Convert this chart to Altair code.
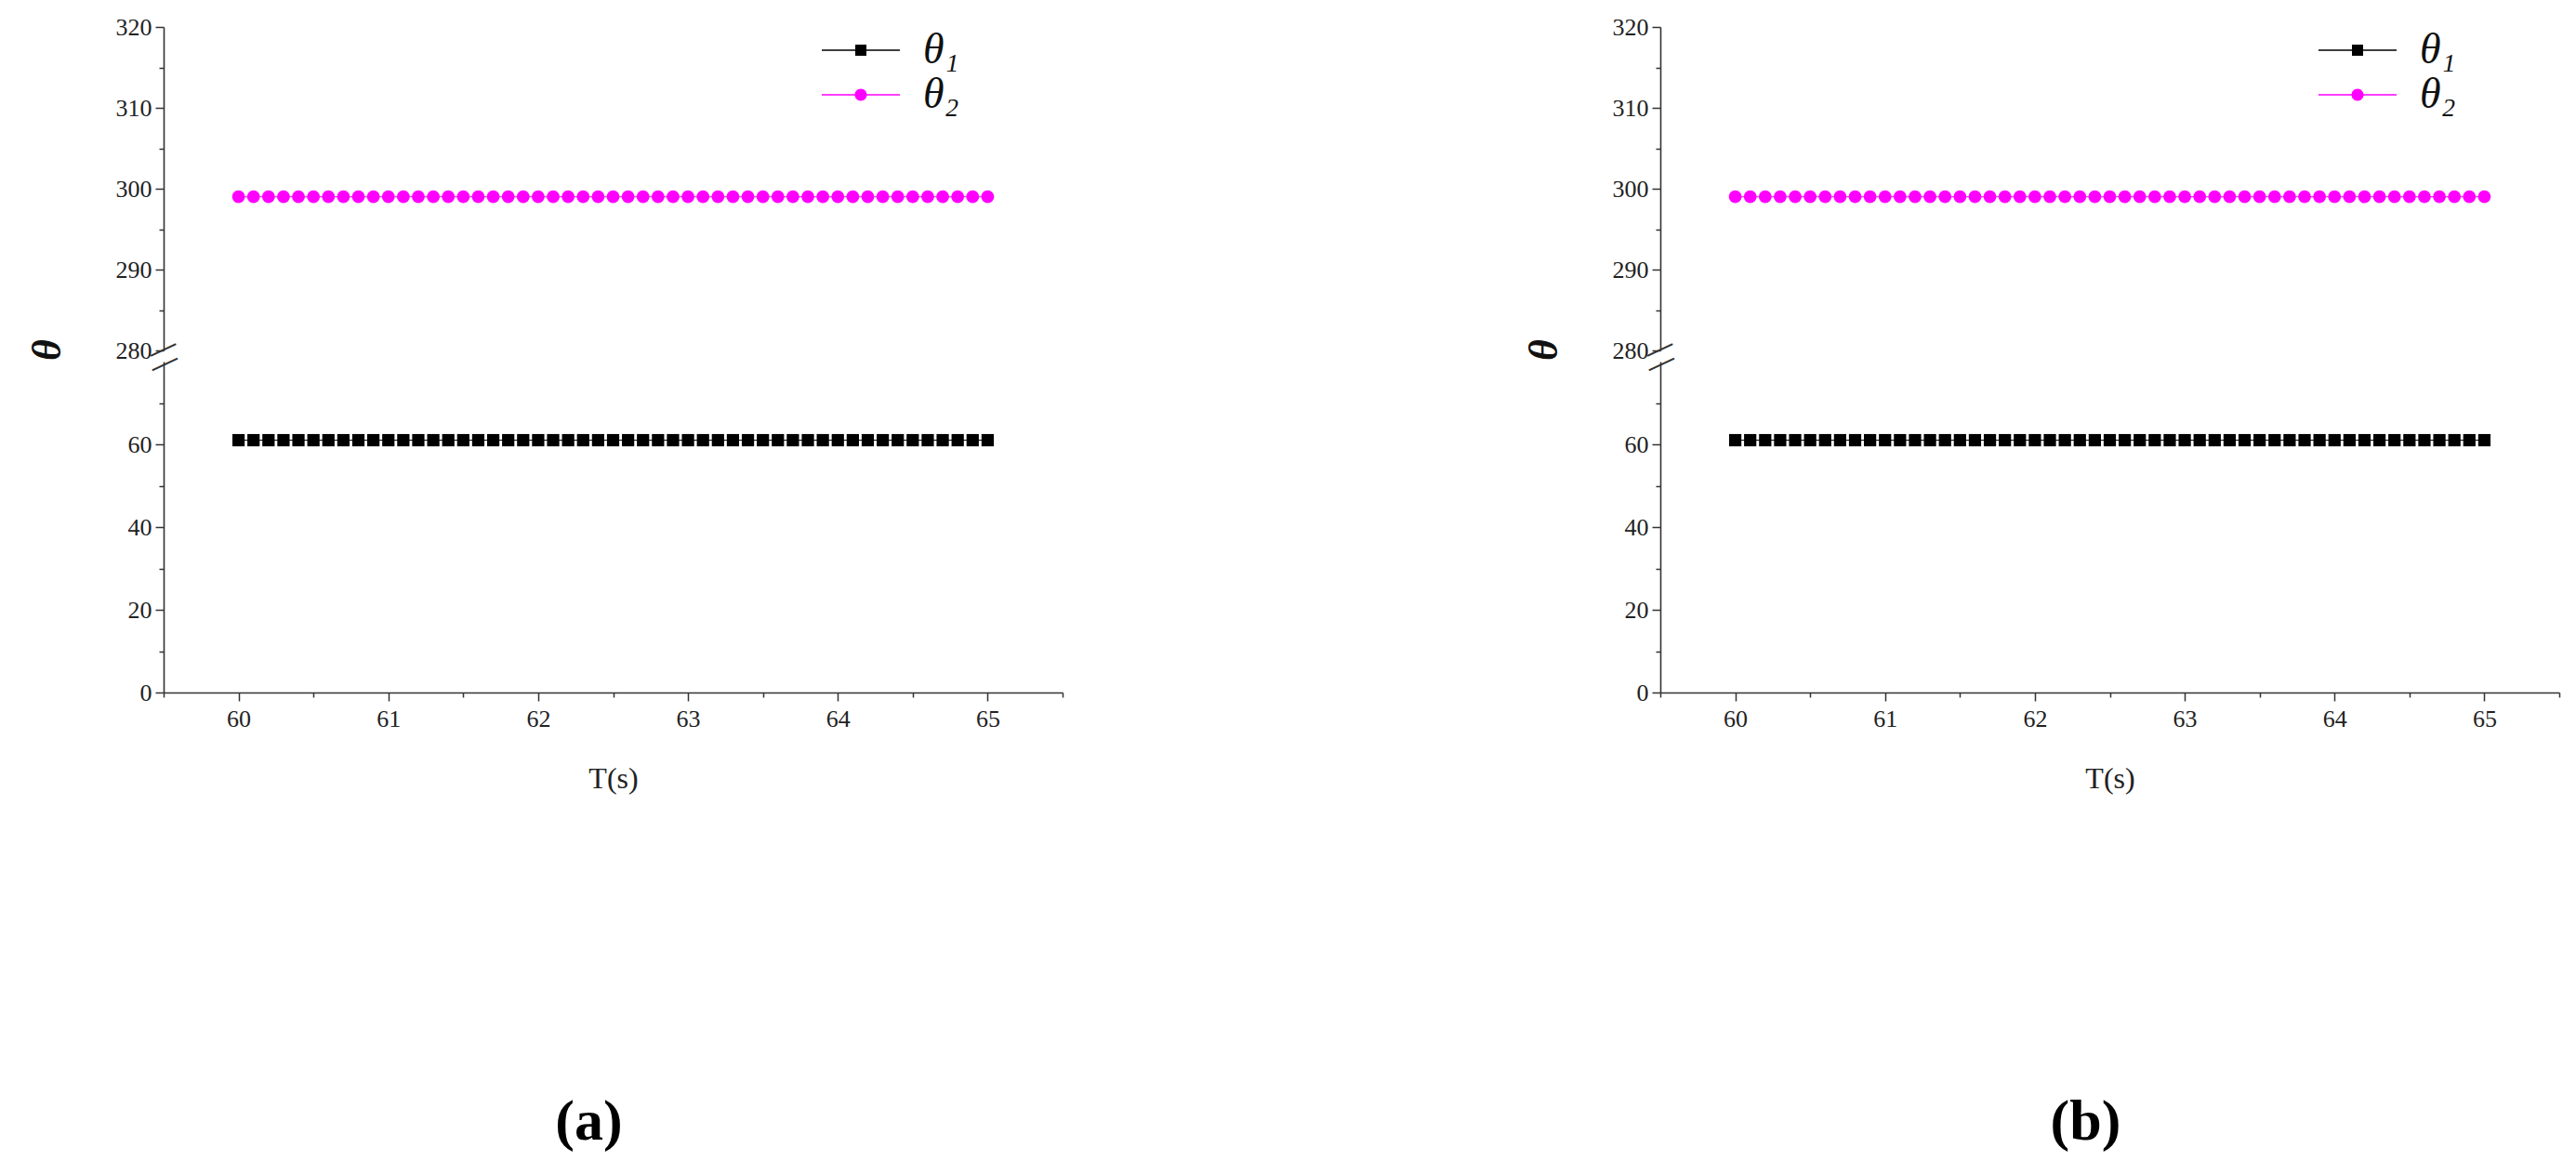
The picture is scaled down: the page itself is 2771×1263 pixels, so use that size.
import altair as alt
import pandas as pd

# ---------------- data ----------------
T = [60.0, 60.1, 60.2, 60.3, 60.4, 60.5, 60.6, 60.7, 60.8, 60.9,
     61.0, 61.1, 61.2, 61.3, 61.4, 61.5, 61.6, 61.7, 61.8, 61.9,
     62.0, 62.1, 62.2, 62.3, 62.4, 62.5, 62.6, 62.7, 62.8, 62.9,
     63.0, 63.1, 63.2, 63.3, 63.4, 63.5, 63.6, 63.7, 63.8, 63.9,
     64.0, 64.1, 64.2, 64.3, 64.4, 64.5, 64.6, 64.7, 64.8, 64.9,
     65.0]
THETA1 = [61, 61, 61, 61, 61, 61, 61, 61, 61, 61,
          61, 61, 61, 61, 61, 61, 61, 61, 61, 61,
          61, 61, 61, 61, 61, 61, 61, 61, 61, 61,
          61, 61, 61, 61, 61, 61, 61, 61, 61, 61,
          61, 61, 61, 61, 61, 61, 61, 61, 61, 61,
          61]
THETA2 = [299, 299, 299, 299, 299, 299, 299, 299, 299, 299,
          299, 299, 299, 299, 299, 299, 299, 299, 299, 299,
          299, 299, 299, 299, 299, 299, 299, 299, 299, 299,
          299, 299, 299, 299, 299, 299, 299, 299, 299, 299,
          299, 299, 299, 299, 299, 299, 299, 299, 299, 299,
          299]
SERIES = ["θ₁", "θ₂"]
COLORS = ["#000000", "#FF00FF"]
PANEL_LABELS = ["(a)", "(b)"]
X_TICKS = [59.5, 60, 60.5, 61, 61.5, 62, 62.5, 63, 63.5, 64, 64.5, 65, 65.5]
UPPER_TICKS = [280, 285, 290, 295, 300, 305, 310, 315, 320]
LOWER_TICKS = [0, 10, 20, 30, 40, 50, 60, 70]
UPPER_RANGE = [280, 320]
LOWER_RANGE = [0, 80]
X_RANGE = [59.5, 65.5]

rows = []
for s, vals in zip(SERIES, [THETA1, THETA2]):
    for t, v in zip(T, vals):
        rows.append({"T": t, "theta": v, "series": s})
df = pd.DataFrame(rows)
brk_upper = pd.DataFrame({"theta": [UPPER_RANGE[0]], "mark": ["—"]})
brk_lower = pd.DataFrame({"theta": [LOWER_RANGE[1]], "mark": ["—"]})

SERIF = "Liberation Serif, DejaVu Serif, serif"
W = 967
H_UP = 348
H_LO = 356

LEG_PATHS = [
    "M-4.2,-0.07L4.2,-0.07L4.2,0.07L-4.2,0.07Z M-0.6,-0.6L0.6,-0.6L0.6,0.6L-0.6,0.6Z",
    "M-4.2,-0.07L4.2,-0.07L4.2,0.07L-4.2,0.07Z M0.65,0A0.65,0.65,0,1,1,-0.65,0A0.65,0.65,0,1,1,0.65,0Z",
]

def tick_cond(test, big, small):
    return {"condition": {"test": test, "value": big}, "value": small}

x_scale = alt.Scale(domain=X_RANGE, nice=False, zero=False)


def make_panel(label):
    x_none = alt.X("T:Q", scale=x_scale, axis=None)
    y_up = alt.Y("theta:Q",
                 scale=alt.Scale(domain=UPPER_RANGE, nice=False, zero=False),
                 axis=alt.Axis(values=UPPER_TICKS, grid=False,
                               labelExpr="datum.value % 10 === 0 ? format(datum.value, 'd') : ''",
                               tickSize=tick_cond("datum.value % 10 === 0", 9, 5),
                               title="θ", titleX=-125, titleY=347, titleAngle=270,
                               titleAlign="center", titleBaseline="middle",
                               titleFont=SERIF, titleFontSize=44, titleFontStyle="italic",
                               titleFontWeight="bold", titleColor="#111"))
    color_nl = alt.Color("series:N", scale=alt.Scale(domain=SERIES, range=COLORS), legend=None)
    shape_nl = alt.Shape("series:N", scale=alt.Scale(domain=SERIES, range=["square", "circle"]), legend=None)

    base_up = alt.Chart(df).transform_filter(f"datum.theta >= {UPPER_RANGE[0]}")
    line_up = base_up.mark_line(strokeWidth=1, clip=True).encode(x=x_none, y=y_up, color=color_nl, detail="series:N")
    pts_up = base_up.mark_point(filled=True, opacity=1, size=190, clip=True).encode(
        x=x_none, y=y_up, color=color_nl, shape=shape_nl)

    leg = alt.Legend(orient="none", legendX=727, legendY=2, title=None, padding=0,
                     symbolSize=400, symbolStrokeWidth=0, symbolOpacity=1,
                     labelFont=SERIF, labelFontSize=46, labelFontStyle="italic",
                     labelColor="#111", labelOffset=44, rowPadding=2)
    legend_layer = alt.Chart(df).transform_filter("false").mark_point(filled=True, opacity=1, size=400).encode(
        x=x_none, y=y_up,
        color=alt.Color("series:N", scale=alt.Scale(domain=SERIES, range=COLORS), legend=leg),
        shape=alt.Shape("series:N", scale=alt.Scale(domain=SERIES, range=LEG_PATHS), legend=leg),
    )
    brk_up = alt.Chart(brk_upper).mark_text(fontSize=30, angle=335, color="#333", dy=-2).encode(
        x=alt.value(0), y=alt.Y("theta:Q"), text="mark:N")

    upper = alt.layer(line_up, pts_up, legend_layer, brk_up).resolve_scale(
        color="independent", shape="independent").properties(width=W, height=H_UP)

    x_lo = alt.X("T:Q", scale=x_scale,
                 axis=alt.Axis(values=X_TICKS, grid=False, title="T(s)",
                               labelExpr="datum.value % 1 === 0 ? format(datum.value, 'd') : ''",
                               tickSize=tick_cond("datum.value % 1 === 0", 9, 5),
                               titleFont=SERIF, titleFontSize=32, titleFontWeight="normal",
                               titleColor="#222", titlePadding=36, labelPadding=6))
    y_lo = alt.Y("theta:Q",
                 scale=alt.Scale(domain=LOWER_RANGE, nice=False, zero=False),
                 axis=alt.Axis(values=LOWER_TICKS, grid=False, title=None,
                               labelExpr="datum.value % 20 === 0 ? format(datum.value, 'd') : ''",
                               tickSize=tick_cond("datum.value % 20 === 0", 9, 5)))
    base_lo = alt.Chart(df).transform_filter(f"datum.theta <= {LOWER_RANGE[1]}")
    line_lo = base_lo.mark_line(strokeWidth=1, clip=True).encode(x=x_lo, y=y_lo, color=color_nl, detail="series:N")
    pts_lo = base_lo.mark_point(filled=True, opacity=1, size=175, clip=True).encode(
        x=x_lo, y=y_lo, color=color_nl, shape=shape_nl)
    brk_lo = alt.Chart(brk_lower).mark_text(fontSize=30, angle=335, color="#333", dy=2).encode(
        x=alt.value(0), y=alt.Y("theta:Q", scale=alt.Scale(domain=LOWER_RANGE, nice=False)), text="mark:N")

    lower = alt.layer(line_lo, pts_lo, brk_lo).properties(
        width=W, height=H_LO,
        title=alt.TitleParams(label, orient="bottom", anchor="middle", frame="group",
                              offset=324, fontSize=62, font=SERIF, fontWeight="bold",
                              color="#000", dx=-26))

    return alt.vconcat(upper, lower, spacing=12, bounds="flush").resolve_scale(
        x="independent", y="independent", color="independent", shape="independent").resolve_legend(
        color="independent", shape="independent")


chart = alt.hconcat(*[make_panel(l) for l in PANEL_LABELS], spacing=495).resolve_scale(
    x="independent", y="independent", color="independent", shape="independent").resolve_legend(
    color="independent", shape="independent").properties(
    padding={"left": 21, "top": 8, "right": 5, "bottom": 5},
    background="white",
).configure_view(stroke=None).configure_axis(
    domainColor="#333", domainWidth=1.6, tickColor="#333", tickWidth=1.5,
    labelFont=SERIF, labelFontSize=26, labelColor="#222", labelPadding=4,
)

chart.save("out.html", embed_options={"renderer": "svg", "actions": False})
